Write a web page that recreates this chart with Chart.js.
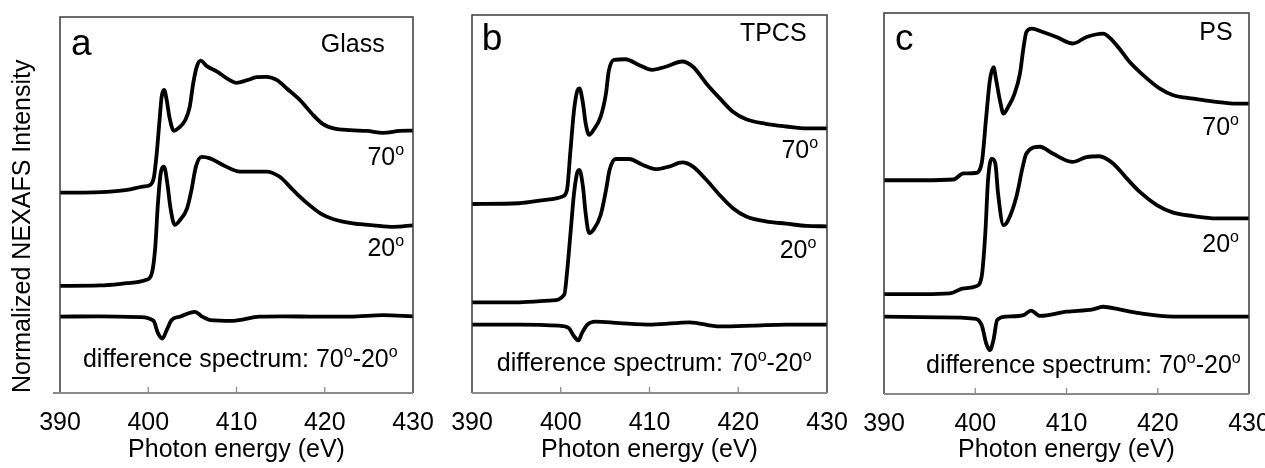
<!DOCTYPE html>
<html lang="en">
<head>
<meta charset="UTF-8">
<title>NEXAFS spectra</title>
<script src="https://cdn.jsdelivr.net/npm/chart.js@4.4.1/dist/chart.umd.min.js"></script>
<style>
  body { margin: 0; background: #fff; }
  .wrap { position: relative; width: 1265px; height: 468px; overflow: hidden; }
  canvas { position: absolute; top: 0; }
</style>
</head>
<body>
<div class="wrap">
  <canvas id="panelA" width="440" height="468" style="left:0px"></canvas>
  <canvas id="panelB" width="420" height="468" style="left:440px"></canvas>
  <canvas id="panelC" width="415" height="468" style="left:850px"></canvas>
</div>
<script>
const FONT = '"Liberation Sans", Arial, sans-serif';
const TEXT_SIZE = 25;
const energyMin = 390, energyMax = 430, energyStep = 10;

// values are [photon energy (eV), normalized intensity incl. vertical offset]
// Glass
const glass70 = [[390,53.3],[392.6,53.3],[395.3,53.5],[397.6,54.0],[399.4,54.9],[400.2,55.3],[400.65,57.5],[400.96,63.7],[401.25,71.7],[401.52,78.8],[401.8,80.6],[402.09,77.9],[402.39,73.5],[402.9,69.7],[403.4,70.4],[404.2,72.6],[404.7,76.1],[405.1,82.4],[405.5,86.8],[405.95,88.4],[406.6,87.0],[407.8,85.5],[408.9,83.7],[410.0,82.5],[411.2,83.2],[412.3,84.0],[413.4,84.1],[414.6,83.2],[415.7,81.0],[417.2,77.9],[418.7,73.9],[419.8,71.5],[421.0,70.4],[422.9,69.9],[424.8,69.7],[426.6,69.2],[428.5,69.7],[430,69.8]];
const glass20 = [[390,28.5],[394.5,28.6],[397.6,29.2],[399.8,30.1],[400.4,31.8],[400.8,38.9],[401.07,49.5],[401.41,58.4],[401.78,60.2],[402.16,55.8],[402.5,49.5],[403.0,44.7],[403.6,46.0],[404.4,49.1],[404.9,54.0],[405.4,60.2],[406.06,62.8],[407.0,62.4],[408.5,60.6],[410.4,58.9],[411.9,58.9],[413.4,58.9],[414.9,57.5],[416.4,54.0],[418.0,50.5],[419.5,47.8],[421.0,46.2],[423.2,45.1],[425.5,44.6],[427.8,44.2],[430,44.6]];
const glassDiff = [[390,20.3],[394.5,20.4],[399.1,20.2],[400.6,19.2],[401.1,15.9],[401.6,14.5],[402.1,16.8],[402.65,19.4],[403.6,20.3],[405.3,21.6],[406.06,20.4],[407.0,19.4],[409.6,19.2],[412.6,20.3],[415.3,20.4],[419.1,20.3],[422.9,20.3],[426.6,20.7],[430,20.4]];

// TPCS
const tpcs70 = [[390,50.0],[395.3,50.2],[398.3,51.1],[400.2,52.0],[400.7,53.7],[401.1,64.3],[401.5,74.9],[401.9,80.2],[402.1,80.6],[402.5,76.7],[402.8,71.4],[403.2,68.3],[403.7,69.6],[404.5,73.1],[405.1,79.3],[405.4,85.0],[406.0,88.1],[407.3,88.3],[408.8,86.8],[410.3,85.5],[411.8,86.3],[413.7,87.7],[414.9,86.3],[416.4,81.9],[417.9,78.0],[419.4,74.4],[420.9,72.4],[423.1,71.2],[425.4,70.5],[427.7,70.0],[430,70.0]];
const tpcs20 = [[390,24.0],[395.3,24.0],[399.0,24.5],[400.4,26.0],[400.7,31.7],[401.1,42.3],[401.5,52.9],[401.9,58.6],[402.1,59.0],[402.5,54.6],[402.8,47.6],[403.2,42.3],[403.7,43.2],[404.5,47.1],[405.1,53.7],[405.5,59.0],[406.2,61.9],[407.7,61.9],[409.2,60.4],[410.7,59.2],[412.2,59.9],[413.7,61.0],[414.9,59.9],[416.4,56.4],[417.9,52.4],[419.4,48.9],[420.9,46.7],[423.1,45.4],[425.4,44.8],[427.7,44.2],[430,44.1]];
const tpcsDiff = [[390,18.1],[395.3,18.1],[399.8,17.8],[400.9,17.2],[401.5,15.0],[402.0,13.9],[402.4,15.9],[403.0,18.1],[403.9,18.9],[406.6,18.5],[410.3,18.1],[414.5,18.7],[417.9,17.6],[421.6,17.8],[425.4,18.1],[430,18.1]];

// PS
const ps70 = [[390,56.1],[394.3,56.1],[397.6,56.3],[398.7,57.9],[400.0,58.0],[400.7,60.5],[401.2,72.7],[401.6,82.3],[402.0,85.8],[402.3,82.3],[402.7,77.1],[403.1,73.6],[403.6,75.3],[404.3,78.8],[404.9,84.1],[405.3,91.1],[405.6,95.0],[406.2,95.9],[407.4,95.0],[408.9,93.7],[410.7,92.0],[412.2,93.7],[414.0,94.6],[415.5,91.5],[416.9,87.2],[418.4,83.7],[420.2,80.2],[421.7,78.4],[423.9,77.5],[426.4,76.7],[428.6,76.2],[430,76.2]];
const ps20 = [[390,26.2],[394.3,26.2],[397.2,26.4],[398.7,27.7],[400.1,28.3],[400.7,30.8],[401.1,42.1],[401.4,56.1],[401.8,61.8],[402.2,60.5],[402.5,52.6],[403.1,44.3],[403.6,45.6],[404.5,51.7],[405.2,59.6],[405.6,63.1],[407.1,64.9],[408.5,63.1],[410.7,60.9],[412.2,62.2],[413.6,62.4],[415.1,60.5],[416.6,56.6],[418.0,53.1],[419.9,49.6],[421.7,47.6],[423.9,46.7],[426.4,46.1],[430,46.1]];
const psDiff = [[390,20.3],[396.1,20.1],[399.8,19.8],[400.7,18.1],[401.2,13.3],[401.6,11.5],[402.0,14.2],[402.4,19.4],[403.4,20.3],[405.3,20.7],[406.1,21.9],[407.1,20.5],[410.0,21.6],[412.9,22.2],[414.0,22.9],[415.8,22.2],[418.0,21.2],[421.7,20.3],[425.3,20.3],[430,20.3]];

// text placed in data coordinates [energy, intensity]
const diffParts = [['difference spectrum: 70'], ['o', 1], ['-20'], ['o', 1]];
const labelsA = [
  { parts: [['a']], at: [391.25, 89.9], align: 'left', size: 37 },
  { parts: [['Glass']], at: [426.8, 90.7], align: 'right' },
  { parts: [['70'], ['o', 1]], at: [429.0, 60.6], align: 'right' },
  { parts: [['20'], ['o', 1]], at: [429.0, 36.4], align: 'right' },
  { parts: diffParts, at: [392.6, 6.9], align: 'left' }
];
const labelsB = [
  { parts: [['b']], at: [391.1, 90.7], align: 'left', size: 37 },
  { parts: [['TPCS']], at: [427.7, 93.0], align: 'right' },
  { parts: [['70'], ['o', 1]], at: [429.0, 62.1], align: 'right' },
  { parts: [['20'], ['o', 1]], at: [428.8, 35.7], align: 'right' },
  { parts: diffParts, at: [392.8, 5.7], align: 'left' }
];
const labelsC = [
  { parts: [['c']], at: [391.2, 90.4], align: 'left', size: 37 },
  { parts: [['PS']], at: [428.2, 92.8], align: 'right' },
  { parts: [['70'], ['o', 1]], at: [428.9, 67.9], align: 'right' },
  { parts: [['20'], ['o', 1]], at: [428.9, 37.3], align: 'right' },
  { parts: diffParts, at: [394.6, 5.6], align: 'left' }
];

function drawParts(ctx, parts, x, y, size, align) {
  const supSize = Math.round(size * 0.62);
  const widths = parts.map(([s, sup]) => {
    ctx.font = (sup ? supSize : size) + 'px ' + FONT;
    return ctx.measureText(s).width;
  });
  const total = widths.reduce((a, b) => a + b, 0);
  let cx = align === 'right' ? x - total : x;
  parts.forEach(([s, sup], i) => {
    ctx.font = (sup ? supSize : size) + 'px ' + FONT;
    ctx.fillText(s, cx, sup ? y - size * 0.4 : y);
    cx += widths[i];
  });
}

const framePlugin = {
  id: 'frame',
  afterDatasetsDraw(chart, args, opts) {
    const { ctx, chartArea: a, scales: { x, y } } = chart;
    ctx.save();
    ctx.strokeStyle = '#3a3a3a';
    ctx.lineWidth = 1.5;
    ctx.beginPath();
    ctx.moveTo(a.left, a.bottom);
    ctx.lineTo(a.left, a.top);
    ctx.lineTo(a.right, a.top);
    ctx.lineTo(a.right, a.bottom);
    ctx.stroke();
    // bottom axis with inward ticks
    ctx.strokeStyle = '#8a8a8a';
    ctx.lineWidth = 2;
    ctx.beginPath();
    ctx.moveTo(a.left - (opts.stub ? 7 : 0), a.bottom);
    ctx.lineTo(a.right, a.bottom);
    ctx.stroke();
    ctx.lineWidth = 1.3;
    x.ticks.forEach(t => {
      if (t.value > x.min && t.value < x.max) {
        const px = x.getPixelForValue(t.value);
        ctx.beginPath();
        ctx.moveTo(px, a.bottom);
        ctx.lineTo(px, a.bottom - 6);
        ctx.stroke();
      }
    });
    // annotations
    ctx.fillStyle = '#000';
    ctx.textBaseline = 'alphabetic';
    ctx.textAlign = 'left';
    opts.labels.forEach(l => {
      drawParts(ctx, l.parts, x.getPixelForValue(l.at[0]), y.getPixelForValue(l.at[1]), l.size || TEXT_SIZE, l.align);
    });
    ctx.restore();
  }
};

function toPoints(arr) {
  return arr.map(p => ({ x: p[0], y: p[1] }));
}

function makePanel(id, series, p) {
  new Chart(document.getElementById(id), {
    type: 'line',
    data: {
      datasets: series.map(s => ({
        data: toPoints(s),
        borderColor: '#000',
        borderWidth: 3.8,
        pointRadius: 0,
        cubicInterpolationMode: 'monotone',
        borderJoinStyle: 'round',
        borderCapStyle: 'round'
      }))
    },
    options: {
      responsive: false,
      animation: false,
      events: [],
      layout: { padding: { top: p.top, right: p.right, bottom: 0, left: 0 } },
      plugins: {
        legend: { display: false },
        tooltip: { enabled: false },
        frame: { labels: p.labels, stub: p.stub }
      },
      scales: {
        x: {
          type: 'linear',
          min: energyMin,
          max: energyMax,
          grid: { display: false, drawTicks: false },
          border: { display: false },
          ticks: { stepSize: energyStep, color: '#000', padding: 15, font: { family: FONT, size: TEXT_SIZE } },
          title: { display: true, text: 'Photon energy (eV)', color: '#000', font: { family: FONT, size: TEXT_SIZE }, padding: { top: 4, bottom: 3 } },
          afterFit(s) { s.height = p.bottomGap; s.paddingLeft = 0; s.paddingRight = 0; }
        },
        y: {
          min: 0,
          max: 100,
          grid: { display: false, drawTicks: false },
          border: { display: false },
          ticks: { display: false },
          title: { display: !!p.yTitle, text: p.yTitle || '', align: 'start', color: '#000', font: { family: FONT, size: TEXT_SIZE }, padding: { top: 8, bottom: 4 } },
          afterFit(s) { s.width = p.leftGap; }
        }
      }
    },
    plugins: [framePlugin]
  });
}

makePanel('panelA', [glass70, glass20, glassDiff], { top: 17, right: 27, leftGap: 60, bottomGap: 75, labels: labelsA, stub: true, yTitle: 'Normalized NEXAFS Intensity' });
makePanel('panelB', [tpcs70, tpcs20, tpcsDiff], { top: 15, right: 33, leftGap: 32, bottomGap: 75, labels: labelsB });
makePanel('panelC', [ps70, ps20, psDiff], { top: 13, right: 16, leftGap: 34, bottomGap: 74, labels: labelsC });
</script>
</body>
</html>
